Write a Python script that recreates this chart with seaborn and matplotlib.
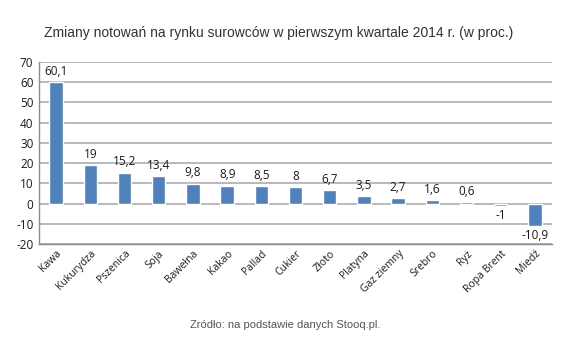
import pandas as pd
import matplotlib.pyplot as plt
import seaborn as sns
import numpy as np

surowce = ['Kawa', 'Kukurydza', 'Pszenica', 'Soja', 'Bawełna', 'Kakao', 'Pallad',
           'Cukier', 'Złoto', 'Platyna', 'Gaz ziemny', 'Srebro', 'Ryż', 'Ropa Brent', 'Miedź']
zmiany = [60.1, 19, 15.2, 13.4, 9.8, 8.9, 8.5, 8, 6.7, 3.5, 2.7, 1.6, 0.6, -1, -10.9]
etykiety = ['60,1', '19', '15,2', '13,4', '9,8', '8,9', '8,5', '8', '6,7', '3,5', '2,7', '1,6', '0,6', '-1', '-10,9']
osY = [70, 60, 50, 40, 30, 20, 10, 0, -10, -20]

df = pd.DataFrame({'surowiec': surowce, 'zmiana': zmiany})

sns.set_style('white')
plt.rcParams['font.family'] = ['Open Sans', 'DejaVu Sans']

fig = plt.figure(figsize=(5.85, 3.55), dpi=100)
ax = fig.add_axes([0.0667, 0.3127, 0.877, 0.5127])

for v in osY:
    ax.axhline(v, color='#a6a6a6', lw=1.1, zorder=0)

sns.barplot(data=df, x='surowiec', y='zmiana', color='#4f81bd', width=0.39,
            saturation=1, ax=ax, zorder=2)

for i, (v, t) in enumerate(zip(zmiany, etykiety)):
    if v >= 0:
        ax.text(i, v + 2.2, t, ha='center', va='bottom', fontsize=8.5, color='#1a1a1a')
    else:
        ax.text(i, v - 1.5, t, ha='center', va='top', fontsize=8.5, color='#1a1a1a')

ax.set_ylim(-20, 70)
ax.set_xlim(-0.5, len(surowce) - 0.5)
ax.set_yticks(osY)
ax.set_yticklabels([str(v) for v in osY], fontsize=8.5, color='#1a1a1a')
ax.set_xticks(range(len(surowce)))
ax.set_xticklabels(surowce, rotation=45, ha='right', rotation_mode='anchor',
                   fontsize=7.5, color='#1a1a1a')
ax.tick_params(axis='both', length=0, pad=4)
ax.tick_params(axis='x', pad=3)
ax.set_xlabel('')
ax.set_ylabel('')

for s in ['top', 'right']:
    ax.spines[s].set_visible(False)
ax.spines['left'].set_color('#8c8c8c')
ax.spines['bottom'].set_color('#8c8c8c')
ax.spines['left'].set_linewidth(1.0)
ax.spines['bottom'].set_linewidth(1.0)

fig.text(0.477, 0.907, 'Zmiany notowań na rynku surowców w pierwszym kwartale 2014 r. (w proc.)',
         ha='center', va='center', fontsize=10, color='#333333', family=['Liberation Sans'])
fig.text(0.487, 0.085, 'Zródło: na podstawie danych Stooq.pl.',
         ha='center', va='center', fontsize=8, color='#555555', family=['Liberation Sans'])

fig.savefig('out.png', dpi=100)
